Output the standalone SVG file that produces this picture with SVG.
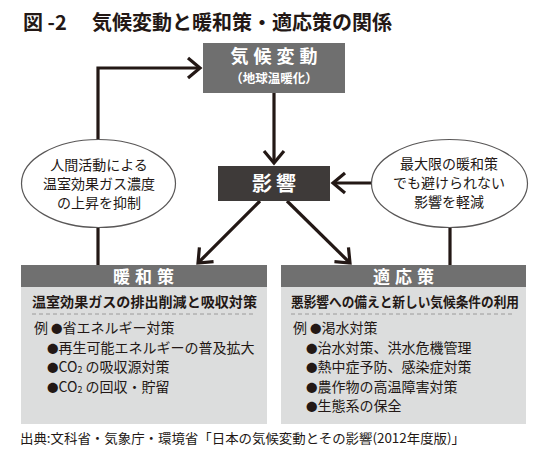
<svg xmlns="http://www.w3.org/2000/svg" width="548" height="455" viewBox="0 0 548 455">
<style>
text{font-family:"Noto Sans CJK JP","Noto Sans",sans-serif;fill:#231815}
.title{font-size:20px;font-weight:bold}
.boxt{fill:#fff;font-weight:bold;text-anchor:middle}
.ell{fill:#fff;stroke:#595757;stroke-width:1.2}
.etxt{font-size:14px;text-anchor:middle}
.conn{fill:none;stroke:#231815;stroke-width:3.2}
.band{fill:#707070}
.body{fill:#dcdddd}
.sub{font-size:13.5px;font-weight:bold}
.item{font-size:14px}
.b{font-size:11.5px}
.dash{stroke:#8a8a8a;stroke-width:0.8;stroke-dasharray:4 3}
.foot{font-size:13px}
</style>
<defs>
<marker id="ah" markerUnits="userSpaceOnUse" viewBox="-15 -12 18 24" refX="0" refY="0" markerWidth="18" markerHeight="24" orient="auto">
<path d="M-12,-10 L0,0 L-12,10" fill="none" stroke="#231815" stroke-width="3.2"/>
</marker>
</defs>
<rect width="548" height="455" fill="#fff"/>
<text class="title" x="23" y="30">図 -2<tspan x="92">気候変動と暖和策・適応策の関係</tspan></text>

<g id="connectors">
<path class="conn" d="M98,140 V68 H200" marker-end="url(#ah)"/>
<path class="conn" d="M98,227 V265"/>
<path class="conn" d="M274,93 V163" marker-end="url(#ah)"/>
<path class="conn" d="M372,183 H333" marker-end="url(#ah)"/>
<path class="conn" d="M450,227 V265"/>
<path class="conn" d="M260,201 L198,263" marker-end="url(#ah)"/>
<path class="conn" d="M287,201 L350,263" marker-end="url(#ah)"/>
</g>

<g id="climate">
<rect x="203" y="43" width="142" height="50" fill="#6f6f6f"/>
<text class="boxt" x="276.5" y="63" font-size="18" letter-spacing="5">気候変動</text>
<text class="boxt" x="274" y="83" font-size="12.5">（地球温暖化）</text>
</g>

<g id="impact">
<rect x="218" y="166" width="112" height="35" fill="#3e3a39"/>
<text class="boxt" x="276" y="191" font-size="20" letter-spacing="4">影響</text>
</g>

<g id="left-ellipse">
<ellipse class="ell" cx="98.5" cy="183.5" rx="77" ry="44"/>
<text class="etxt" x="99" y="170">人間活動による</text>
<text class="etxt" x="99" y="189">温室効果ガス濃度</text>
<text class="etxt" x="99" y="208">の上昇を抑制</text>
</g>

<g id="right-ellipse">
<ellipse class="ell" cx="449.5" cy="183.5" rx="78" ry="44"/>
<text class="etxt" x="449" y="169">最大限の暖和策</text>
<text class="etxt" x="449" y="188">でも避けられない</text>
<text class="etxt" x="449" y="207">影響を軽減</text>
</g>

<g id="mitigation">
<rect class="body" x="21" y="265" width="246" height="159"/>
<rect class="band" x="21" y="265" width="246" height="22"/>
<text class="boxt" x="146" y="283" font-size="17" letter-spacing="5">暖和策</text>
<text class="sub" x="32" y="307" textLength="225" lengthAdjust="spacingAndGlyphs">温室効果ガスの排出削減と吸収対策</text>
<line class="dash" x1="32" y1="314" x2="254" y2="314"/>
<text class="item" x="34" y="333">例</text>
<text class="item" x="51" y="333"><tspan class="b">●</tspan>省エネルギー対策</text>
<text class="item" x="47" y="352.6"><tspan class="b">●</tspan>再生可能エネルギーの普及拡大</text>
<text class="item" x="47" y="372.2"><tspan class="b">●</tspan>CO<tspan font-size="9" dy="1">2</tspan><tspan dy="-1"> の吸収源対策</tspan></text>
<text class="item" x="47" y="391.8"><tspan class="b">●</tspan>CO<tspan font-size="9" dy="1">2</tspan><tspan dy="-1"> の回収・貯留</tspan></text>
</g>

<g id="adaptation">
<rect class="body" x="281" y="265" width="245" height="159"/>
<rect class="band" x="281" y="265" width="245" height="22"/>
<text class="boxt" x="406" y="283" font-size="17" letter-spacing="5">適応策</text>
<text class="sub" x="291" y="307" textLength="228" lengthAdjust="spacingAndGlyphs">悪影響への備えと新しい気候条件の利用</text>
<line class="dash" x1="291" y1="314" x2="512" y2="314"/>
<text class="item" x="293" y="333">例</text>
<text class="item" x="310" y="333"><tspan class="b">●</tspan>渇水対策</text>
<text class="item" x="306" y="352.6"><tspan class="b">●</tspan>治水対策、洪水危機管理</text>
<text class="item" x="306" y="372.2"><tspan class="b">●</tspan>熱中症予防、感染症対策</text>
<text class="item" x="306" y="391.8"><tspan class="b">●</tspan>農作物の高温障害対策</text>
<text class="item" x="306" y="411.4"><tspan class="b">●</tspan>生態系の保全</text>
</g>

<text class="foot" x="20" y="443" textLength="445" lengthAdjust="spacingAndGlyphs">出典:文科省・気象庁・環境省「日本の気候変動とその影響(2012年度版)」</text>
</svg>
